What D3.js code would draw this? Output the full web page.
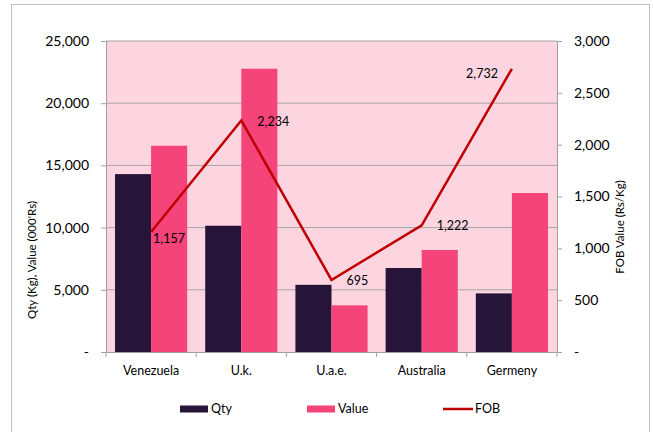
<!DOCTYPE html>
<html>
<head>
<meta charset="utf-8">
<script src="https://d3js.org/d3.v7.min.js"></script>
<style>
  body { margin: 0; background: #fff; }
  svg { font-family: Lato, "Open Sans", sans-serif; }
  .tick text { fill: #000; }
  .grid line { stroke: #a6a6a6; }
</style>
</head>
<body>
<script>
// data
var countries = ["Venezuela", "U.k.", "U.a.e.", "Australia", "Germeny"];
var qty   = [14300, 10150, 5400, 6750, 4710];
var value = [16580, 22770, 3750, 8200, 12780];
var fob   = [1157, 2234, 695, 1222, 2732];
var leftTicks  = [0, 5000, 10000, 15000, 20000, 25000];
var rightTicks = [0, 500, 1000, 1500, 2000, 2500, 3000];

var W = 653, H = 432;
var margin = {top: 41, right: 96, bottom: 80, left: 106};
var width = W - margin.left - margin.right,
    height = H - margin.top - margin.bottom;

var svg = d3.select("body").append("svg")
    .attr("width", W).attr("height", H);

// outer frame
svg.append("rect")
    .attr("x", 11.5).attr("y", 4.5)
    .attr("width", 638).attr("height", 440)
    .attr("fill", "#fff").attr("stroke", "#c0c0c0");

var g = svg.append("g")
    .attr("transform", "translate(" + margin.left + "," + margin.top + ")");

var x = d3.scaleBand().domain(countries).range([0, width]).paddingInner(0.2).paddingOuter(0.1);
var xBand = d3.scaleBand().domain(countries).range([0, width]);
var sub = d3.scaleBand().domain(["qty", "value"]).range([0, x.bandwidth()]);
var y = d3.scaleLinear().domain([0, 25000]).range([height, 0]);
var y2 = d3.scaleLinear().domain([0, 3000]).range([height, 0]);

var fmt = function(d) { return d === 0 ? "-" : d3.format(",")(d); };

// plot background
g.append("rect")
    .attr("width", width).attr("height", height)
    .attr("fill", "#fcd5e0");

// gridlines
g.append("g").attr("class", "grid")
  .selectAll("line").data(leftTicks.filter(function(d) { return d > 0; }))
  .enter().append("line")
    .attr("x1", 0).attr("x2", width)
    .attr("y1", function(d) { return y(d); })
    .attr("y2", function(d) { return y(d); });

// bars
var colors = {qty: "#261538", value: "#f44479"};
var groups = g.selectAll(".grp").data(countries).enter().append("g")
    .attr("transform", function(d) { return "translate(" + x(d) + ",0)"; });
groups.append("rect")
    .attr("x", sub("qty")).attr("width", sub.bandwidth())
    .attr("y", function(d, i) { return y(qty[i]); })
    .attr("height", function(d, i) { return height - y(qty[i]); })
    .attr("fill", colors.qty);
groups.append("rect")
    .attr("x", sub("value")).attr("width", sub.bandwidth())
    .attr("y", function(d, i) { return y(value[i]); })
    .attr("height", function(d, i) { return height - y(value[i]); })
    .attr("fill", colors.value);

// axes
var yAxis = g.append("g")
    .call(d3.axisLeft(y).tickValues(leftTicks).tickFormat(fmt).tickSize(5).tickPadding(12));
var y2Axis = g.append("g")
    .attr("transform", "translate(" + width + ",0)")
    .call(d3.axisRight(y2).tickValues(rightTicks).tickFormat(fmt).tickSize(5).tickPadding(12));
var xAxis = g.append("g")
    .attr("transform", "translate(0," + height + ")")
    .call(d3.axisBottom(xBand).tickSize(0).tickPadding(14));
// category separators on the x axis
xAxis.selectAll(".sep").data(d3.range(countries.length + 1)).enter().append("line")
    .attr("x1", function(i) { return i * xBand.bandwidth(); })
    .attr("x2", function(i) { return i * xBand.bandwidth(); })
    .attr("y1", 0).attr("y2", 5);

[yAxis, y2Axis, xAxis].forEach(function(a) {
  a.selectAll("path, line").attr("stroke", "#a0a0a0");
  a.selectAll("text").style("font-family", "Lato, sans-serif");
});
yAxis.selectAll("text").style("font-size", "14px");
y2Axis.selectAll("text").style("font-size", "14px");
xAxis.selectAll("text").style("font-size", "12.5px");

// FOB line
var cx = function(i) { return xBand(countries[i]) + xBand.bandwidth() / 2; };
var line = d3.line()
    .x(function(d, i) { return cx(i); })
    .y(function(d) { return y2(d); });
g.append("path")
    .datum(fob)
    .attr("d", line)
    .attr("fill", "none")
    .attr("stroke", "#c00000")
    .attr("stroke-width", 2.5);

// FOB data labels
var labelOffset = [[2, 7, "start"], [16, 1, "start"], [15, 1, "start"], [15, 0, "start"], [-14, 5, "end"]];
g.selectAll(".lbl").data(fob).enter().append("text")
    .attr("x", function(d, i) { return cx(i) + labelOffset[i][0]; })
    .attr("y", function(d, i) { return y2(d) + labelOffset[i][1]; })
    .attr("dy", "0.35em")
    .attr("text-anchor", function(d, i) { return labelOffset[i][2]; })
    .style("font-size", "12.5px")
    .text(function(d) { return d3.format(",")(d); });

// axis titles
svg.append("text")
    .attr("transform", "translate(32,260) rotate(-90)")
    .attr("text-anchor", "middle").attr("dy", "0.35em")
    .style("font-size", "11.5px")
    .text("Qty (Kg), Value (000'Rs)");
svg.append("text")
    .attr("transform", "translate(620,227) rotate(-90)")
    .attr("text-anchor", "middle").attr("dy", "0.35em")
    .style("font-size", "11.5px")
    .text("FOB Value (Rs/Kg)");

// legend
var legend = svg.append("g").attr("transform", "translate(0,409)");
var lq = legend.append("g").attr("transform", "translate(180,0)");
lq.append("rect").attr("x", 0).attr("y", -3.5).attr("width", 28).attr("height", 7).attr("fill", colors.qty);
lq.append("text").attr("x", 31).attr("dy", "0.35em").style("font-size", "12.5px").text("Qty");
var lv = legend.append("g").attr("transform", "translate(307,0)");
lv.append("rect").attr("x", 0).attr("y", -3.5).attr("width", 28).attr("height", 7).attr("fill", colors.value);
lv.append("text").attr("x", 31).attr("dy", "0.35em").style("font-size", "12.5px").text("Value");
var lf = legend.append("g").attr("transform", "translate(443,0)");
lf.append("line").attr("x1", 0).attr("x2", 30).attr("stroke", "#c00000").attr("stroke-width", 2.5);
lf.append("text").attr("x", 32).attr("dy", "0.35em").style("font-size", "12.5px").text("FOB");
</script>
</body>
</html>
